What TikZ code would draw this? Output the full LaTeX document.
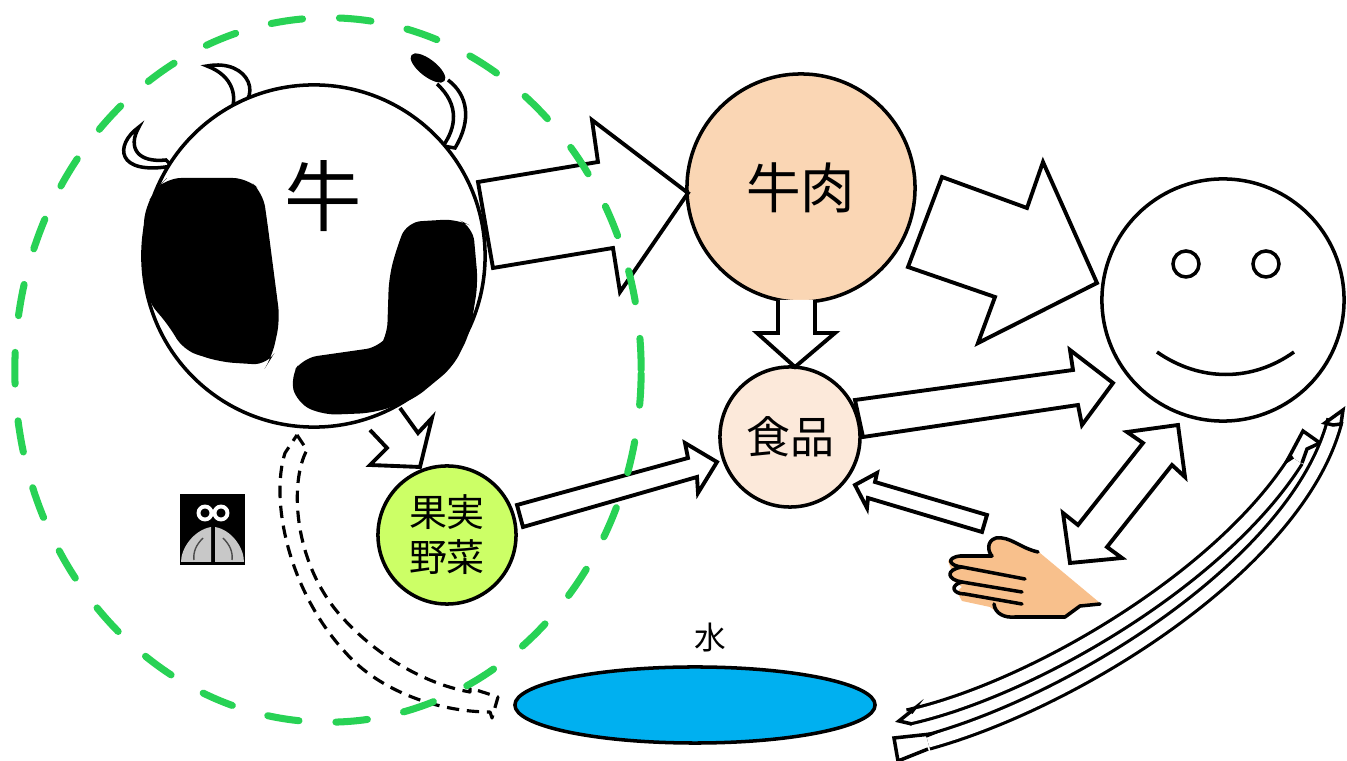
\documentclass[tikz,border=0pt]{standalone}
\usepackage{fontspec}
\usetikzlibrary{shapes.geometric}
\newfontfamily\jp{Noto Sans CJK JP}
\definecolor{beefpink}{RGB}{250,214,180}
\definecolor{foodpink}{RGB}{252,233,218}
\definecolor{vegyellow}{RGB}{204,255,102}
\definecolor{waterblue}{RGB}{0,176,240}
\definecolor{skin}{RGB}{248,192,140}
\definecolor{fencegreen}{RGB}{40,210,85}
\definecolor{winggray}{RGB}{200,200,200}
\tikzset{
  ball/.style={circle,draw,line width=1pt,inner sep=0pt,font=\jp},
  blockarr/.style={draw,fill=white,line width=1.1pt,line join=miter},
  horn/.style={draw,fill=white,line width=1pt},
  pipe/.style={double=white,double distance=3.2pt,line width=0.9pt},
}
\begin{document}
\begin{tikzpicture}[x=0.01cm,y=-0.01cm]
\useasboundingbox (0,0) rectangle (1347,761);

% horns
\draw[horn] (139,127) .. controls (114,145) and (116,176) .. (172,166) -- (166,160) .. controls (138,163) and (127,148) .. cycle;
\draw[horn] (207,66) .. controls (250,58) and (266,100) .. (230,114) .. controls (238,98) and (234,76) .. cycle;
\draw[horn] (437,84) .. controls (460,105) and (456,128) .. (443,146) -- (455,148) .. controls (472,120) and (468,95) .. (448,80);
\fill[rotate around={-38:(428,68)}] (428,68) ellipse [x radius=0.21cm, y radius=0.085cm];

% cow
\node[ball,fill=white,minimum size=3.42cm] (cow) at (314,256) {};
\fill[rounded corners=4pt] (167,178) -- (247,178) -- (263,193) -- (267,220) -- (280,320) -- (272,357) -- (267,365)
  -- (220,362) -- (183,350) -- (170,327) -- (147,300) -- (142,253) -- (145,207) -- (157,188) -- cycle;
\fill[rounded corners=4pt] (407,222) -- (457,219) -- (473,227) -- (478,283) -- (470,333) -- (453,367) -- (413,400)
  -- (373,413) -- (323,415) -- (297,403) -- (290,377) -- (303,358) -- (380,347) -- (387,337) -- (389,277) -- (397,247) -- cycle;
\node[font=\jp\fontsize{22}{26}\selectfont] (cowname) at (323,196) {牛};

% fly
\fill (180,494) rectangle (245,565);
\fill[winggray] (211,527) .. controls (194,530) and (181,548) .. (181,562) -- (211,562) -- cycle;
\fill[winggray] (215,527) .. controls (232,530) and (244,548) .. (244,562) -- (215,562) -- cycle;
\draw[gray!60!black,line width=0.4pt] (203,538) .. controls (196,545) and (193,552) .. (194,560);
\draw[gray!60!black,line width=0.4pt] (223,538) .. controls (230,545) and (233,552) .. (232,560);
\draw[white,line width=1.1pt] (205,513) circle [radius=0.065cm] (221,513) circle [radius=0.065cm];

% beef, food, fruit, face
\node[ball,fill=beefpink,minimum size=2.28cm,font=\jp\fontsize{15.5}{18}\selectfont] (beef) at (801,188) {牛肉};
\node[ball,fill=foodpink,minimum size=1.4cm,font=\jp\fontsize{12.5}{15}\selectfont] (food) at (790,437) {食品};
\node[ball,fill=vegyellow,minimum size=1.38cm,align=center,font=\jp\fontsize{10.8}{12.8}\selectfont] (veg) at (447,535) {果実\\野菜};
\node[ball,minimum size=2.42cm] (face) at (1223,300) {};
\draw[line width=1pt] (1186,264) circle [radius=0.13cm] (1266,264) circle [radius=0.13cm];
\draw[line width=1pt] (1157,352) .. controls (1200,382) and (1252,382) .. (1294,352);

% water
\node[ellipse,draw,fill=waterblue,line width=1pt,minimum width=3.6cm,minimum height=0.76cm] (water) at (695,705) {};
\node[font=\jp\fontsize{9}{11}\selectfont] (waterlabel) at (710,638) {水};

% hand
\fill[skin] (1040,553) -- (1100,603) -- (1085,604) -- (1068,617) -- (1005,618) -- (990,607) -- (962,601) -- (957,592)
  -- (962,587) -- (952,580) -- (951,569) -- (948,561) -- (956,555) -- (990,555) -- (988,545) -- (997,538) -- (1015,543) -- cycle;
\draw[line width=1pt,line cap=round,line join=round]
  (1038,552) .. controls (1020,548) and (1010,536) .. (996,538) .. controls (986,541) and (988,552) .. (992,556)
  -- (960,556) .. controls (945,558) and (950,566) .. (962,567) -- (1025,579);
\draw[line width=1pt,line cap=round,line join=round]
  (962,567) .. controls (944,570) and (948,580) .. (962,582) -- (1022,592);
\draw[line width=1pt,line cap=round,line join=round]
  (962,582) .. controls (950,585) and (952,594) .. (965,594) -- (1022,604);
\draw[line width=1pt,line cap=round,line join=round]
  (994,604) .. controls (995,614) and (1005,618) .. (1015,617) -- (1065,617) -- (1080,606) -- (1100,604);

% block arrows
\draw[blockarr] (478,182) -- (598,162) -- (592,120) -- (688,193) -- (620,292) -- (613,248) -- (493,268) -- cycle;
\draw[blockarr] (942,177) -- (1027,208) -- (1043,162) -- (1097,283) -- (978,343) -- (995,297) -- (908,267) -- cycle;
\draw[blockarr] (778,300) -- (778,333) -- (757,333) -- (795,367) -- (835,333) -- (815,333) -- (815,300);
\draw[blockarr] (855,400) -- (1073,370) -- (1070,350) -- (1113,383) -- (1082,425) -- (1078,405) -- (863,437) -- cycle;
\draw[blockarr] (855,485) -- (877,473) -- (875,482) -- (987,515) -- (982,532) -- (868,498) -- (867,508) -- cycle;
\draw[blockarr] (1178,425) -- (1185,477) -- (1172,465) -- (1107,547) -- (1122,558) -- (1070,563) -- (1063,513)
  -- (1078,525) -- (1143,443) -- (1127,432) -- cycle;
\draw[blockarr] (400,408) -- (418,433) -- (432,418) -- (420,467) -- (370,465) -- (387,448) -- (370,430);
\draw[blockarr] (517,505) -- (688,458) -- (685,443) -- (717,462) -- (698,493) -- (697,477) -- (523,527) -- cycle;

% dashed return arrow
\draw[line width=0.9pt,dash pattern=on 3.5pt off 2.2pt,line join=round]
  (297,435) -- (307,450) .. controls (290,480) and (292,560) .. (340,615) .. controls (380,660) and (430,685) .. (470,692)
  -- (470,688) -- (498,697) -- (492,718) -- (490,712) .. controls (440,712) and (380,692) .. (345,652)
  .. controls (288,590) and (270,500) .. (285,453) -- cycle;

% curved arrows
\draw[pipe] (908,717) .. controls (1030,690) and (1220,580) .. (1296,460);
\draw[blockarr,line width=1pt] (1293,457) -- (1287,461) -- (1303,431) -- (1320,443) -- (1307,449) -- (1302,463);
\draw[blockarr,line width=1pt] (912,724) -- (899,721) -- (914,709) -- (911,713);
\draw[pipe] (1335,420) .. controls (1300,560) and (1080,700) .. (928,742);
\draw[blockarr,line width=1pt] (1343,410) -- (1341,424) -- (1333,425) -- (1325,423) -- cycle;
\draw[blockarr,line width=1pt] (926,736) -- (931,734) -- (894,738) -- (898,761) -- (928,749);

% fence
\draw[fencegreen,line width=2pt,line cap=round,dash pattern=on 9pt off 10.5pt]
  (328,370) ellipse [x radius=3.13cm, y radius=3.52cm];
\end{tikzpicture}
\end{document}
